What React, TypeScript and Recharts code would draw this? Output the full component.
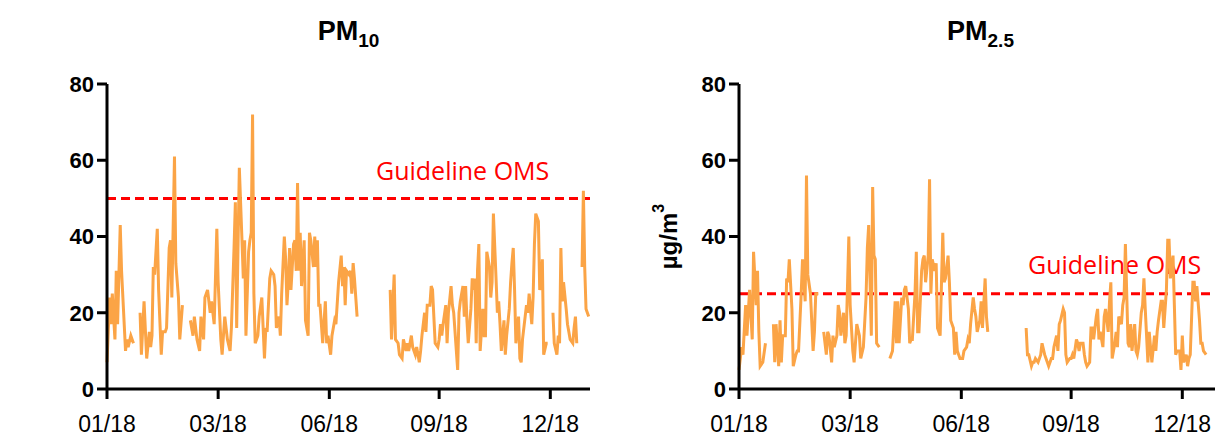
import React from 'react'
import { LineChart, Line, XAxis, YAxis, ReferenceLine } from 'recharts'

// ── Palette / fonts ──────────────────────────────────────────────────────────
const ORANGE = '#FBA446'
const RED = '#FF0000'
const SANS = "'Liberation Sans', Arial, sans-serif"
const LABEL_FONT = "'Open Sans', sans-serif"

// ── Axes ─────────────────────────────────────────────────────────────────────
const X_TICKS = [0, 84, 168, 251, 335]
const X_LABELS = ['01/18', '03/18', '06/18', '09/18', '12/18']
const Y_TICKS = [0, 20, 40, 60, 80]

// ── PM10 daily means (day of year, µg/m3); null = gap in the record ─────────
const pm10Days = [
  0, 2, 3, 4, 6, 7, 8, 10, 11, 14, 15, 16, 18, 20, 22,
  25, 26, 28, 30, 32, 33, 34, 35, 36, 38, 39, 41, 42, 44, 45, 47, 48, 49, 51, 52, 54, 55, 57, 60,
  63, 65, 66, 68, 70, 71, 73, 74, 75, 76,
  78, 79, 81, 83, 84, 86, 87, 89, 91, 93,
  94, 96, 97, 98, 100, 102, 103, 104, 105, 107,
  108, 109, 110, 111, 112, 114, 115, 117, 119, 120,
  121, 123, 124, 126, 127, 128, 130, 131, 132, 134,
  135, 136, 137, 138, 139, 141, 142, 143, 144, 145,
  146, 147, 149, 150, 152, 153, 154, 156, 157, 158,
  159, 160, 161, 163, 165, 166, 167, 169, 170, 172,
  173, 175, 177, 178, 179, 180, 181, 183, 184, 185,
  186, 187, 189, 200,
  214, 215, 217, 218, 220, 221, 223, 224, 226, 227,
  228, 230, 231, 233, 234, 236, 237, 238, 240, 241,
  242, 244, 245, 246, 248, 250, 251, 252, 253, 254,
  256, 257, 258, 260, 261, 262, 264, 265, 266, 267,
  269, 270, 271, 272, 273, 275, 276, 277, 278, 279,
  280, 281, 282, 284, 285, 286, 287, 289, 290, 291,
  292, 294, 295, 296, 297, 298, 300, 301, 302, 304,
  305, 306, 307, 308, 309, 311, 312, 313, 314, 316,
  317, 318, 319, 321, 322, 323, 324, 326, 327, 328,
  329, 330, 332, 333, 335,
  337, 338, 340, 341, 342, 343, 344, 345, 347, 348, 349, 350, 352, 353, 354, 355, 357,
  359, 360, 361, 362, 364,
]
const pm10Values: (number | null)[] = [
  7, 24, 17, 25, 13, 31, 17, 43, 31, 10, 13, 11, 14, 12, null,
  20, 9, 23, 8, 15, 11, 14, 32, 30, 42, 26, 9, 15, 15, 16, 37, 39, 24, 61, 33, 24, 13, 22, null,
  18, 14, 19, 13, 10, 19, 13, 24, 25, 26,
  20, 23, 17, 42, 28, 13, 9, 19, 13, 10,
  16, 37, 49, 16, 58, 39, 29, 39, 14, 36,
  39, 41, 72, 25, 12, 14, 19, 24, 8, 16,
  15, 29, 31, 30, 27, 16, 19, 14, 25, 40,
  34, 22, 28, 37, 26, 38, 39, 31, 54, 31,
  41, 27, 39, 18, 14, 41, 39, 32, 40, 32,
  39, 22, 22, 12, 23, 12, 14, 9, 14, 18,
  17, 28, 35, 27, 32, 22, 31, 30, 31, 25,
  33, 29, 19, null,
  26, 13, 30, 13, 12, 9, 8, 13, 10, 12,
  10, 14, 11, 9, 11, 7, 10, 14, 20, 15,
  22, 22, 27, 26, 12, 11, 13, 17, 14, 17,
  22, 12, 20, 27, 22, 20, 10, 5, 20, 23,
  27, 19, 27, 18, 12, 21, 29, 26, 29, 12,
  31, 38, 10, 21, 14, 14, 36, 32, 24, 28,
  46, 29, 20, 23, 17, 10, 18, 9, 14, 21,
  28, 33, 37, 26, 12, 19, 8, 7, 13, 19,
  22, 20, 25, 17, 24, 38, 46, 44, 26, 27,
  34, 9, 12, 12, null,
  20, 12, 9, 14, 12, 37, 23, 28, 21, 17, 15, 13, 12, 16, 19, 12, null,
  32, 52, 32, 21, 19,
]

// ── PM2.5 daily means ────────────────────────────────────────────────────────
const pm25Days = [
  0, 2, 3, 5, 6, 7, 8, 10, 11, 13, 14, 15, 16, 18, 20, 22,
  26, 27, 28, 30, 31, 32, 33, 35, 36, 37,
  38, 40, 41, 43, 44, 45, 47, 48, 50, 51,
  52, 54, 56, 57, 58, 60, 62,
  64, 66, 67, 68, 70, 71, 72, 74, 75, 76,
  77, 79, 80, 81, 83, 84, 86, 87, 89, 91,
  92, 94, 96, 97, 98, 100, 101, 102, 103, 104,
  106, 110,
  114, 116, 118, 119, 120, 121, 123, 124, 125, 126,
  128, 129, 130, 131, 133, 134, 135, 136, 138, 139,
  140, 141, 143, 144, 145, 146, 148, 149, 150, 152,
  154, 155, 156, 158, 159, 160, 162, 163, 164, 165,
  167, 169, 170, 172, 173, 174, 175, 177, 178, 179,
  180, 182, 183, 184, 186, 187, 188, 200,
  217, 218, 219, 221, 222, 223, 224, 226, 227, 228,
  229, 231, 232, 233, 234, 236, 237, 238, 240, 241,
  242, 243, 245, 246, 247, 248, 250, 251, 252, 253,
  255, 256, 257, 258, 260, 261, 262, 263, 265, 266,
  267, 268, 270, 271, 272, 273, 275, 276, 277, 279,
  280, 281, 282, 284, 285, 286, 287, 289, 290, 291,
  292, 294, 295, 296, 297, 299, 300, 301, 302, 304,
  305, 306, 307, 309, 310, 311, 312, 314, 315, 316,
  317, 319, 320, 321, 323, 324, 325, 326, 328, 329,
  330, 331, 333, 334, 335, 336, 338, 339, 340, 341,
  343, 344, 345, 346, 348, 349, 350, 351, 353,
]
const pm25Values: (number | null)[] = [
  5, 11, 9, 22, 14, 20, 26, 13, 36, 22, 31, 15, 6, 7, 12, null,
  17, 7, 17, 6, 18, 7, 14, 14, 29, 28,
  34, 21, 6, 9, 10, 10, 25, 34, 23, 56,
  30, 25, 10, 15, 25, 25, null,
  15, 9, 15, 14, 7, 14, 11, 14, 22, 20,
  14, 20, 12, 14, 40, 22, 10, 7, 17, 14,
  8, 11, 24, 37, 43, 14, 53, 35, 34, 12,
  11, null,
  8, 10, 23, 12, 23, 12, 24, 22, 26, 27,
  21, 12, 13, 13, 25, 36, 15, 15, 31, 34,
  35, 28, 35, 55, 25, 34, 31, 33, 16, 14,
  41, 28, 29, 35, 28, 18, 16, 9, 15, 10,
  8, 8, 10, 11, 13, 12, 17, 24, 21, 19,
  15, 18, 23, 16, 29, 19, 15, null,
  16, 9, 9, 6, 7, 7, 8, 7, 8, 9,
  12, 9, 8, 7, 6, 8, 8, 11, 14, 10,
  17, 18, 21, 20, 9, 7, 8, 8, 9, 8,
  13, 12, 10, 12, 12, 9, 7, 6, 7, 16,
  16, 13, 19, 21, 13, 15, 11, 19, 21, 15,
  23, 28, 8, 12, 15, 11, 19, 17, 22, 24,
  38, 12, 11, 17, 10, 17, 10, 9, 11, 20,
  22, 29, 21, 7, 15, 11, 7, 14, 10, 15,
  18, 23, 23, 16, 26, 39, 39, 29, 35, 22,
  9, 10, 10, 5, 14, 7, 9, 6, 8, 9,
  28, 28, 23, 27, 18, 12, 12, 10, 9,
]

// ── Guideline label drawn just above the reference line ──────────────────────
function GuideLabel({ viewBox, dx, dy }: any) {
  if (!viewBox) return null
  return (
    <text x={viewBox.x + dx} y={viewBox.y + dy} fill={RED} fontSize={25} fontFamily={LABEL_FONT}>
      Guideline OMS
    </text>
  )
}

// ── Rotated y-axis unit label ────────────────────────────────────────────────
function UnitLabel({ viewBox }: any) {
  if (!viewBox) return null
  const cx = viewBox.x + 36
  const cy = viewBox.y + viewBox.height / 2
  return (
    <text
      x={cx} y={cy}
      transform={`rotate(-90 ${cx} ${cy})`}
      textAnchor="middle" dominantBaseline="central"
      fontSize={24} fontWeight={700} fontFamily={SANS} fill="#000"
    >
      µg/m<tspan dy={-10} fontSize={16}>3</tspan>
    </text>
  )
}

interface PanelProps {
  left: number
  days: number[]
  values: (number | null)[]
  guide: number
  sub: string
  labelDx: number
  labelDy: number
  unit?: boolean
}

function Panel({ left, days, values, guide, sub, labelDx, labelDy, unit }: PanelProps) {
  const data = days.map((d, i) => ({ day: d, v: values[i] }))
  return (
    <div style={{ position: 'absolute', left, top: 0, width: 600, height: 437 }}>
      <div
        style={{
          position: 'absolute', left: 107, width: 483, top: 18,
          textAlign: 'center', fontFamily: SANS, fontWeight: 700, fontSize: 27, lineHeight: 1,
        }}
      >
        PM<span style={{ fontSize: 19, position: 'relative', top: 7 }}>{sub}</span>
      </div>
      <LineChart width={600} height={437} data={data} margin={{ top: 84, right: 10, left: 0, bottom: 0 }}>
        <XAxis
          dataKey="day" type="number" domain={[0, 365]}
          ticks={X_TICKS} interval={0}
          tickFormatter={(v: number) => X_LABELS[X_TICKS.indexOf(v)]}
          height={48}
          axisLine={{ stroke: '#000', strokeWidth: 3 }}
          tickLine={{ stroke: '#000', strokeWidth: 3 }}
          tickSize={10} tickMargin={17}
          tick={{ fill: '#000', fontSize: 23, fontFamily: SANS }}
        />
        <YAxis
          type="number" domain={[0, 80]} ticks={Y_TICKS} interval={0}
          width={107}
          axisLine={{ stroke: '#000', strokeWidth: 3 }}
          tickLine={{ stroke: '#000', strokeWidth: 3 }}
          tickSize={10} tickMargin={3}
          tick={{ fill: '#000', fontSize: 22, fontWeight: 700, fontFamily: SANS }}
          label={unit ? <UnitLabel /> : undefined}
        />
        <ReferenceLine
          y={guide} stroke={RED} strokeWidth={3} strokeDasharray="9 5"
          label={<GuideLabel dx={labelDx} dy={labelDy} />}
        />
        <Line
          type="linear" dataKey="v" stroke={ORANGE} strokeWidth={3}
          dot={false} activeDot={false} connectNulls={false}
          isAnimationActive={false}
        />
      </LineChart>
    </div>
  )
}

export default function App() {
  return (
    <div
      style={{
        position: 'fixed', left: 0, top: 0, width: 1215, height: 437,
        overflow: 'hidden', background: '#fff',
      }}
    >
      <Panel left={0} days={pm10Days} values={pm10Values} guide={50} sub="10" labelDx={269} labelDy={-18} />
      <Panel left={632} days={pm25Days} values={pm25Values} guide={25} sub="2.5" labelDx={289} labelDy={-20} unit />
    </div>
  )
}
